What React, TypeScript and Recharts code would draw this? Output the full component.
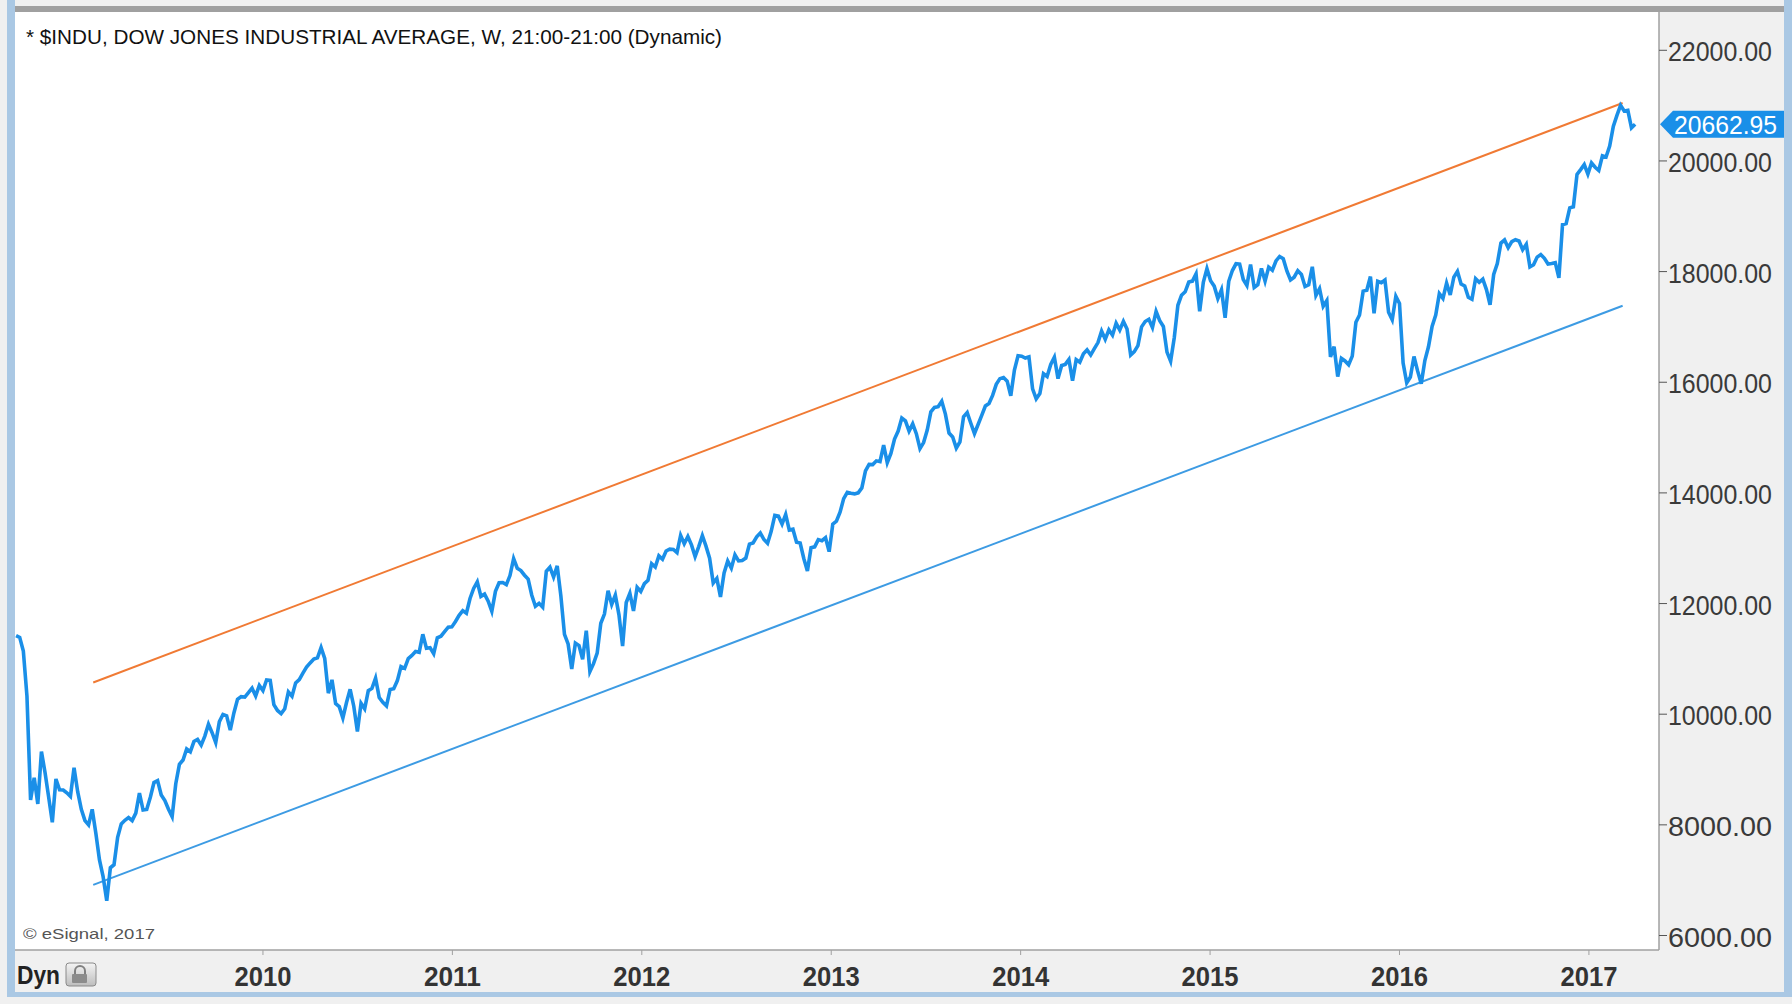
import React from "react";
import { LineChart, Line, XAxis, YAxis, CartesianGrid, ReferenceLine } from "recharts";

// weekly closes, first bar is the week ending Fri 12 Sep 2008
const FIRST_WEEK = Date.UTC(2008, 8, 12);
const WEEK_MS = 7 * 24 * 3600 * 1000;

const dow2008 = [11421, 11388, 11143, 10325, 8451, 8852, 8378, 9325, 8943, 8497, 8046, 8829, 8635, 8629, 8579, 8515];
const dow2009 = [
  9034, 8599, 8281, 8077, 8001, 8280, 7850, 7366, 7063, 6627, 7224, 7279, 7776, 8018, 8083, 8131, 8076, 8213,
  8575, 8268, 8278, 8500, 8764, 8799, 8540, 8439, 8281, 8147, 8743, 9093, 9172, 9370, 9321, 9506, 9544, 9441,
  9605, 9820, 9665, 9488, 9865, 9996, 9972, 9713, 10023, 10270, 10318, 10310, 10388, 10471, 10329, 10520,
];
const dow2010 = [
  10428, 10618, 10610, 10173, 10067, 10012, 10099, 10402, 10325, 10566, 10625, 10742, 10850, 10927, 10997, 11019,
  11204, 11009, 10380, 10620, 10193, 10137, 9931, 10212, 10450, 10144, 9686, 10198, 10097, 10425, 10466, 10653,
  10303, 10213, 10150, 10448, 10462, 10607, 10860, 10829, 11006, 11062, 11133, 11118, 11444, 11192, 11203, 11092,
  11382, 11410, 11491, 11573, 11578,
];
const dow2011 = [
  11675, 11787, 11872, 11824, 12092, 12273, 12391, 12130, 12170, 12044, 11859, 12221, 12376, 12380, 12342, 12506,
  12811, 12638, 12596, 12512, 12441, 12151, 11952, 12004, 11934, 12582, 12657, 12480, 12681, 12143, 11444, 11269,
  10818, 11284, 11240, 10992, 11509, 10771, 10913, 11103, 11644, 11809, 12231, 11983, 12153, 11796, 11231, 12019,
  12184, 11866, 12294, 12218,
];
const dow2012 = [
  12360, 12422, 12720, 12660, 12862, 12801, 12950, 12983, 12978, 12922, 13233, 13081, 13212, 13060, 12850, 13029,
  13228, 13038, 12821, 12369, 12454, 12119, 12554, 12767, 12640, 12880, 12772, 12777, 12822, 13075, 13096, 13207,
  13275, 13157, 13090, 13306, 13593, 13579, 13437, 13610, 13328, 13343, 13107, 13093, 12815, 12588, 13009, 13025,
  13155, 13135, 13190, 12938,
];
const dow2013 = [
  13435, 13488, 13650, 13896, 14009, 13993, 13982, 14001, 14090, 14397, 14514, 14512, 14579, 14565, 14865, 14547,
  14712, 14974, 15118, 15354, 15303, 15116, 15248, 15070, 14800, 14910, 15136, 15464, 15544, 15559, 15658, 15425,
  15081, 15010, 14810, 14922, 15376, 15451, 15258, 15073, 15237, 15400, 15570, 15615, 15762, 15962, 16065, 16086,
  16020, 15755, 16221, 16479,
];
const dow2014 = [
  16470, 16437, 16459, 15880, 15699, 15794, 16154, 16104, 16322, 16453, 16066, 16303, 16323, 16413, 16027, 16409,
  16361, 16513, 16584, 16492, 16607, 16717, 16924, 16776, 16948, 16851, 17068, 16944, 17100, 16961, 16493, 16554,
  16663, 17001, 17098, 17138, 16988, 17280, 17113, 17009, 16544, 16380, 16805, 17391, 17573, 17635, 17810, 17828,
  17958, 17281, 17805, 18053,
];
const dow2015 = [
  17833, 17737, 17512, 17673, 17165, 17825, 18019, 18141, 18133, 17857, 17750, 18128, 17713, 17764, 18058, 17827,
  18080, 18025, 18192, 18273, 18233, 18011, 17849, 17899, 18016, 17947, 17730, 17761, 18086, 17569, 17690, 17373,
  17477, 16460, 16643, 16102, 16433, 16385, 16315, 16472, 17084, 17216, 17647, 17664, 17910, 17245, 17824, 17798,
  17848, 17265, 17128, 17553,
];
const dow2016 = [
  17425, 16347, 15988, 16094, 16466, 16205, 15974, 16392, 16640, 17007, 17213, 17602, 17516, 17793, 17577, 17898,
  18004, 17774, 17740, 17535, 17501, 17873, 17807, 17865, 17675, 17400, 17949, 18147, 18516, 18571, 18432, 18543,
  18576, 18553, 18395, 18492, 18085, 18124, 18262, 18308, 18240, 18138, 18146, 18161, 17888, 18848, 18868, 19152,
  19171, 19757, 19843, 19934, 19763,
];
const dow2017 = [19964, 19886, 19827, 20094, 20071, 20269, 20624, 20822, 21005, 20903, 20914, 20597, 20662.95];

const lastClose = 20662.95;

// hand drawn channel lines (start / end)
const upperChannel = [
  { t: 2009.104, v: 10574 },
  { t: 2017.178, v: 21048 },
];
const lowerChannel = [
  { t: 2009.104, v: 6916 },
  { t: 2017.178, v: 17382 },
];

const yearTicks = [2010, 2011, 2012, 2013, 2014, 2015, 2016, 2017];
const priceTicks = [6000, 8000, 10000, 12000, 14000, 16000, 18000, 20000, 22000];

const FONT = "'Liberation Sans', Arial, sans-serif";

const toYear = (ms: number) => {
  const y = new Date(ms).getUTCFullYear();
  const a = Date.UTC(y, 0, 1);
  const b = Date.UTC(y + 1, 0, 1);
  return y + (ms - a) / (b - a);
};

const closes = [
  ...dow2008, ...dow2009, ...dow2010, ...dow2011, ...dow2012,
  ...dow2013, ...dow2014, ...dow2015, ...dow2016, ...dow2017,
];
const weekly = closes.map((v, i) => ({ t: toYear(FIRST_WEEK + i * WEEK_MS), v }));

const YearTick = (props: any) => {
  const { x, y, payload } = props;
  return (
    <text
      x={x}
      y={y + 31}
      textAnchor="middle"
      fontFamily={FONT}
      fontSize={28}
      fontWeight="bold"
      fill="#333"
      textLength={57}
      lengthAdjust="spacingAndGlyphs"
    >
      {payload.value}
    </text>
  );
};

const PriceTick = (props: any) => {
  const { x, y, payload } = props;
  return (
    <text
      x={x + 1}
      y={y + 11}
      fontFamily={FONT}
      fontSize={28}
      fill="#3a3a3a"
      textLength={104}
      lengthAdjust="spacingAndGlyphs"
    >
      {Number(payload.value).toFixed(2)}
    </text>
  );
};

const PriceTag = (props: any) => {
  const vb = props.viewBox || {};
  const r = (vb.x || 0) + (vb.width || 0);
  const y = vb.y || 0;
  return (
    <g>
      <polygon
        points={`${r + 1},${y} ${r + 14},${y - 13.5} ${r + 125},${y - 13.5} ${r + 125},${y + 13.5} ${r + 14},${y + 13.5}`}
        fill="#1a8fe8"
      />
      <text
        x={r + 15}
        y={y + 9.5}
        fontFamily={FONT}
        fontSize={26}
        fill="#fff"
        textLength={103}
        lengthAdjust="spacingAndGlyphs"
      >
        {lastClose.toFixed(2)}
      </text>
    </g>
  );
};

export default function App() {
  return (
    <div
      style={{
        position: "absolute",
        left: 0,
        top: 0,
        width: 1792,
        height: 1004,
        background: "#f0f0f0",
        overflow: "hidden",
      }}
    >
      <div style={{ position: "absolute", left: 7, top: 0, width: 8, height: 997, background: "#aac8e4" }} />
      <div style={{ position: "absolute", left: 1784, top: 0, width: 8, height: 997, background: "#aac8e4" }} />
      <div style={{ position: "absolute", left: 7, top: 992, width: 1785, height: 5, background: "#aac8e4" }} />
      <div style={{ position: "absolute", left: 15, top: 6, width: 1769, height: 6, background: "#a0a0a0" }} />

      <div style={{ position: "absolute", left: 0, top: 0 }}>
        <LineChart
          width={1792}
          height={1004}
          data={weekly}
          margin={{ top: 12, right: 8, bottom: 12, left: 15 }}
        >
          <CartesianGrid horizontal={false} vertical={false} fill="#ffffff" fillOpacity={1} stroke="none" />
          <XAxis
            dataKey="t"
            type="number"
            domain={[2008.691, 2017.37]}
            allowDataOverflow
            ticks={yearTicks}
            height={42}
            tickSize={5}
            tickMargin={0}
            axisLine={{ stroke: "#a0a0a0", strokeWidth: 1.5 }}
            tickLine={{ stroke: "#a0a0a0" }}
            tick={<YearTick />}
            interval={0}
          />
          <YAxis
            orientation="right"
            type="number"
            domain={[5738, 22692]}
            allowDataOverflow
            ticks={priceTicks}
            width={125}
            tickSize={8}
            tickMargin={0}
            axisLine={{ stroke: "#a0a0a0", strokeWidth: 1.5 }}
            tickLine={{ stroke: "#555" }}
            tick={<PriceTick />}
            interval={0}
          />
          <Line
            data={upperChannel}
            dataKey="v"
            stroke="#f07a34"
            strokeWidth={2}
            dot={false}
            isAnimationActive={false}
          />
          <Line
            data={lowerChannel}
            dataKey="v"
            stroke="#3d9be3"
            strokeWidth={2}
            dot={false}
            isAnimationActive={false}
          />
          <Line
            dataKey="v"
            stroke="#1a8fe8"
            strokeWidth={3.6}
            strokeLinejoin="miter"
            dot={false}
            isAnimationActive={false}
          />
          <ReferenceLine y={lastClose} stroke="none" label={PriceTag} />
        </LineChart>
      </div>

      <svg
        width={1792}
        height={1004}
        style={{ position: "absolute", left: 0, top: 0, pointerEvents: "none" }}
      >
        <text
          x={26}
          y={44}
          fontFamily={FONT}
          fontSize={21}
          fill="#111"
          textLength={696}
          lengthAdjust="spacingAndGlyphs"
        >
          * $INDU, DOW JONES INDUSTRIAL AVERAGE, W, 21:00-21:00 (Dynamic)
        </text>
        <text
          x={23}
          y={939}
          fontFamily={FONT}
          fontSize={15}
          fill="#555"
          textLength={132}
          lengthAdjust="spacingAndGlyphs"
        >
          © eSignal, 2017
        </text>
        <text
          x={17}
          y={984}
          fontFamily={FONT}
          fontSize={25}
          fontWeight="bold"
          fill="#222"
          textLength={43}
          lengthAdjust="spacingAndGlyphs"
        >
          Dyn
        </text>
        <defs>
          <linearGradient id="lockBtn" x1="0" y1="0" x2="0" y2="1">
            <stop offset="0" stopColor="#f4f4f4" />
            <stop offset="1" stopColor="#bdbdbd" />
          </linearGradient>
        </defs>
        <rect x={66} y={963} width={30} height={23} rx={3} fill="url(#lockBtn)" stroke="#8a8a8a" />
        <path d="M75,974 v-3 a5,5 0 0 1 10,0 v3" fill="none" stroke="#808080" strokeWidth={2} />
        <rect x={72} y={974} width={15} height={9} rx={1} fill="#8c8c8c" />
      </svg>
    </div>
  );
}
